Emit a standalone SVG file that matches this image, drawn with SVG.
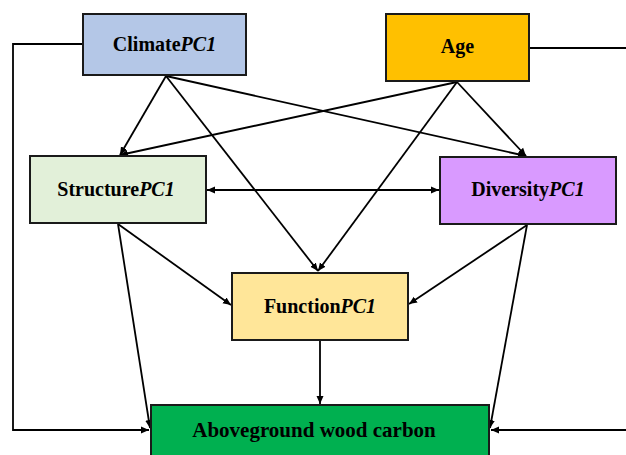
<svg xmlns="http://www.w3.org/2000/svg" width="626" height="455" viewBox="0 0 626 455">
<style>
.box{stroke:#1a1a1a;stroke-width:2}
.lbl{font-family:"Liberation Serif","Times New Roman",serif;font-weight:bold;font-size:20px;fill:#000;text-anchor:middle}
.it{font-style:italic}
.c{fill:none;stroke:#000;stroke-width:1.8}
</style>
<defs>
<marker id="ah" markerUnits="userSpaceOnUse" markerWidth="9" markerHeight="8" refX="8" refY="4" orient="auto-start-reverse">
<path d="M0,0.5 L8,4 L0,7.5 Z" fill="#000"/>
</marker>
</defs>
<rect width="626" height="455" fill="#fff"/>
<g id="connectors">
<path class="c" d="M83,44 H13 V430 H149" marker-end="url(#ah)"/>
<path class="c" d="M529,48 H630 V430 H491" marker-end="url(#ah)"/>
<path class="c" d="M166,76 L120,155" marker-end="url(#ah)"/>
<path class="c" d="M166,76 L318,271" marker-end="url(#ah)"/>
<path class="c" d="M166,76 L526,156" marker-end="url(#ah)"/>
<path class="c" d="M457,82 L120,155" marker-end="url(#ah)"/>
<path class="c" d="M457,82 L318,271" marker-end="url(#ah)"/>
<path class="c" d="M457,82 L526,156" marker-end="url(#ah)"/>
<path class="c" d="M207,190 L439,190" marker-start="url(#ah)" marker-end="url(#ah)"/>
<path class="c" d="M118,224 L231,305" marker-end="url(#ah)"/>
<path class="c" d="M118,224 L150,428" marker-end="url(#ah)"/>
<path class="c" d="M527,225 L409,304" marker-end="url(#ah)"/>
<path class="c" d="M527,225 L490,428" marker-end="url(#ah)"/>
<path class="c" d="M320,341 L320,404" marker-end="url(#ah)"/>
</g>
<g id="climate">
<rect class="box" x="83" y="14" width="163" height="61" fill="#b4c7e7"/>
<text class="lbl" x="164.5" y="51">Climate<tspan class="it">PC1</tspan></text>
</g>
<g id="age">
<rect class="box" x="386" y="14" width="143" height="67" fill="#ffc000"/>
<text class="lbl" x="457.5" y="53">Age</text>
</g>
<g id="structure">
<rect class="box" x="30" y="156" width="176" height="67" fill="#e2f0d9"/>
<text class="lbl" x="116" y="196">Structure<tspan class="it">PC1</tspan></text>
</g>
<g id="diversity">
<rect class="box" x="440" y="157" width="176" height="67" fill="#d99aff"/>
<text class="lbl" x="528" y="196">Diversity<tspan class="it">PC1</tspan></text>
</g>
<g id="function">
<rect class="box" x="232" y="273" width="176" height="67" fill="#ffe699"/>
<text class="lbl" x="320" y="313">Function<tspan class="it">PC1</tspan></text>
</g>
<g id="carbon">
<rect class="box" x="151" y="405" width="338" height="60" fill="#00b050"/>
<text class="lbl" x="314" y="437" style="font-size:21px">Aboveground wood carbon</text>
</g>
</svg>
